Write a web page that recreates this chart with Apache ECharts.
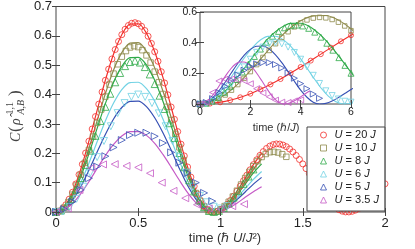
<!DOCTYPE html>
<html><head><meta charset="utf-8">
<script src="https://cdn.jsdelivr.net/npm/echarts@6/dist/echarts.min.js"></script>
<style>html,body{margin:0;padding:0;background:#fff}#c{width:415px;height:249px}</style>
</head><body><div id="c"></div>
<script>
// Interaction strengths (units of J) and legend labels
const U = [20, 10, 8, 6, 5, 3.5];
const names = ['U = 20 J', 'U = 10 J', 'U = 8 J', 'U = 6 J', 'U = 5 J', 'U = 3.5 J'];
const colors = ['#f2302c', '#8f8b4c', '#2eaa48', '#72d2e4', '#3650b4', '#c55ac6'];
// sampling step of the measured points, in units of hbar/J
const markerDt = [0.4, 0.25, 0.24, 0.25, 0.25, 0.25];
// theory curve sampling step, in units of hbar U / J^2
const theoryStep = 0.05;

const m20 = [0, .0028, .0111, .0248, .0437, .0673, .0954, .1274, .1628, .2009, .2412, .2828, .3251, .3674, .4088, .4487, .4866, .5213, .5534, .5809, .6040, .6224, .6353, .6428, .6450, .6413, .6327, .6182, .5986, .5743, .5458, .5135, .4779, .4396, .3992, .3577, .3157, .2738, .2310, .1910, .1534, .1189, .0878, .0610, .0387, .0209, .0085, .0016,
  .0002, .0023, .0075, .0155, .0262, .0391, .0540, .0705, .0882, .1066, .1253, .1438, .1614, .1779, .1929, .2058, .2165, .2245, .2296, .2319,
  .2313, .2281, .2225, .2146, .2046, .1925, .1789, .1639, .1477, .1310, .1138, .0968, .0802, .0644, .0495, .0363, .0247, .0152, .0078, .0028, .0003,
  .0003, .0023, .0063, .0122, .0198, .0288, .0390, .0500, .0615, .0733, .0850, .0960];
const m10 = [0, .0038, .0152, .0337, .0590, .0903, .1268, .1675, .2113, .2569, .3035, .3492, .3931, .4341, .4713, .5032, .5291, .5483, .5604, .5650, .5617, .5512, .5335, .5090, .4781, .4422, .4019, .3583, .3133, .2658, .2203, .1759, .1344, .0970, .0647, .0383, .0183, .0055, .0001,
  .0023, .0091, .0201, .0348, .0525, .0725, .0937, .1155, .1366, .1561, .1734, .1874, .1976, .2036, .2050, .2025, .1969, .1880];
const m8 = [0, .0050, .0198, .0438, .0762, .1156, .1604, .2091, .2596, .3101, .3583, .4029, .4419, .4736, .4969, .5108, .5150, .5091, .4936, .4686, .4358, .3962, .3510, .3024, .2520, .2008, .1525, .1082, .0701, .0391, .0167, .0035, .0002,
  .004, .014, .029, .049, .071, .096, .121, .145];
const m6 = [0, .002, .017, .045, .086, .133, .187, .242, .292, .337, .371, .392, .400, .392, .371, .336, .292, .242, .187, .134, .086, .055, .033, .018, .012, .02];
const m5 = [0, .01, .035, .075, .115, .155, .19, .22, .245, .262, .27, .27, .258, .235, .203, .168, .133, .1, .065, .037];
const m35 = [0, .012, .075, .15, .162, .163, .157, .152, .132, .1, .072, .047, .025, .012, .01, .02, .027];

// theory curves
const t20 = [0, .0173, .0673, .1447, .2412, .3464, .4487, .5380, .6040, .6397, .6413, .6090, .5458, .4588, .3577, .2515, .1534, .0739, .0209, .0002, .0075, .0325, .0705, .116, .1614, .200];
const t10 = [0, .016, .061, .130, .217, .311, .403, .484, .543, .575, .577, .547, .491, .412, .322, .226, .138, .066, .019, 0, .007, .029, .063, .104, .145, .180];
const t8  = [0, .014, .055, .119, .198, .285, .369, .442, .496, .526, .527, .501, .449, .377, .294, .207, .126, .061, .017, 0, .006, .027, .058, .095, .133, .164];
const t6  = [0, .012, .046, .100, .166, .239, .310, .371, .417, .441, .442, .420, .377, .317, .247, .174, .106, .051, .014, 0, .005, .022, .049, .080, .111, .138];
const t5  = [0, .010, .040, .085, .142, .204, .264, .317, .356, .377, .378, .359, .321, .270, .211, .148, .090, .044, .012, 0, .004, .019, .042, .068, .095, .118];
const t35 = [0, .007, .029, .062, .103, .148, .192, .230, .259, .274, .274, .261, .234, .196, .153, .108, .066, .032, .009, 0, .003, .014, .030, .050, .069, .086];

const markers = [m20, m10, m8, m6, m5, m35];
const theory = [t20, t10, t8, t6, t5, t35];
const symbols = ['circle', 'rect', 'triangle', 'triangle', 'triangle', 'triangle'];
const rotations = [0, 0, 0, 180, -90, 90];
const mainSizes = [6, 5.5, 7, 7, 7, 7];
const insetSizes = [5, 4.5, 6, 6, 6, 6];

const FONT = '"Liberation Sans", Arial, sans-serif';
const SERIF = '"Liberation Serif", "DejaVu Serif", serif';
const frame = '#444';

const series = [];
for (let i = 0; i < U.length; i++) {
  series.push({
    type: 'line', name: 'th' + i, xAxisIndex: 0, yAxisIndex: 0, silent: true,
    data: theory[i].map((v, k) => [k * theoryStep, v]),
    showSymbol: false, smooth: 0.3, lineStyle: { color: colors[i], width: 1.2 }, z: 2
  });
  series.push({
    type: 'line', name: 'thi' + i, xAxisIndex: 2, yAxisIndex: 2, silent: true,
    data: theory[i].map((v, k) => [k * theoryStep * U[i], v]),
    showSymbol: false, smooth: 0.3, lineStyle: { color: colors[i], width: 1.1 }, z: 11
  });
}
for (let i = 0; i < U.length; i++) {
  series.push({
    type: 'scatter', name: names[i], xAxisIndex: 0, yAxisIndex: 0, silent: true,
    data: markers[i].map((v, k) => [k * markerDt[i] / U[i], v]),
    symbol: symbols[i], symbolSize: mainSizes[i], symbolRotate: rotations[i],
    itemStyle: { color: 'rgba(0,0,0,0)', borderColor: colors[i], borderWidth: 1 }, z: 3
  });
  series.push({
    type: 'scatter', name: 'in' + i, xAxisIndex: 2, yAxisIndex: 2, silent: true,
    data: markers[i].map((v, k) => [k * markerDt[i], v]),
    symbol: symbols[i], symbolSize: insetSizes[i], symbolRotate: rotations[i],
    itemStyle: { color: 'rgba(0,0,0,0)', borderColor: colors[i], borderWidth: 1 }, z: 12
  });
}

function axisX(grid, pos, min, max, iv, labels, fs, z) {
  return { type: 'value', gridIndex: grid, position: pos, min, max, interval: iv, z,
    axisLine: { show: false }, splitLine: { show: false },
    axisTick: { show: true, inside: true, length: 4, lineStyle: { color: frame } },
    axisLabel: { show: labels, fontSize: fs, color: '#222', fontFamily: FONT, margin: grid === 0 ? 5 : 3 } };
}
function axisY(grid, pos, min, max, iv, labels, fs, z) {
  return { type: 'value', gridIndex: grid, position: pos, min, max, interval: iv, z,
    axisLine: { show: false }, splitLine: { show: false },
    axisTick: { show: true, inside: true, length: 4, lineStyle: { color: frame } },
    axisLabel: { show: labels, fontSize: fs, color: '#222', fontFamily: FONT, margin: grid === 0 ? 4 : 3 } };
}

const chart = echarts.init(document.getElementById('c'), null, { renderer: 'canvas' });
chart.setOption({
  animation: false,
  backgroundColor: '#fff',
  grid: [
    { left: 56, right: 30, top: 6, bottom: 37, show: true, borderColor: frame, borderWidth: 1, backgroundColor: 'transparent', z: 1 },
    { left: 200, right: 64, top: 12, bottom: 145, show: true, borderColor: frame, borderWidth: 1, backgroundColor: '#fff', z: 8 }
  ],
  xAxis: [
    axisX(0, 'bottom', 0, 2, 0.5, true, 13, 4),
    axisX(0, 'top', 0, 2, 0.5, false, 13, 4),
    axisX(1, 'bottom', 0, 6, 2, true, 10.5, 13),
    axisX(1, 'top', 0, 6, 2, false, 10.5, 13)
  ],
  yAxis: [
    axisY(0, 'left', 0, 0.7, 0.1, true, 13, 4),
    axisY(0, 'right', 0, 0.7, 0.1, false, 13, 4),
    axisY(1, 'left', 0, 0.6, 0.2, true, 10.5, 13),
    axisY(1, 'right', 0, 0.6, 0.2, false, 10.5, 13)
  ],
  legend: {
    data: names.map((n, i) => ({ name: n, icon: symbols[i], symbolRotate: rotations[i] })),
    orient: 'vertical', left: 307, top: 127, selectedMode: false,
    backgroundColor: '#fff', borderColor: frame, borderWidth: 1, borderRadius: 0,
    padding: [1.5, 6, 4.5, 13], itemWidth: 6, itemHeight: 6, itemGap: 0, z: 20,
    itemStyle: { borderWidth: 1 },
    formatter: n => ' ' + n.replace('U', '{i|U}').replace(/J$/, '{i|J}'),
    textStyle: { fontSize: 11, lineHeight: 13, color: '#222', fontFamily: FONT,
      rich: { i: { fontStyle: 'italic', fontSize: 11, lineHeight: 13, color: '#222', fontFamily: FONT } } }
  },
  graphic: [
    { type: 'text', x: 225, y: 238, z: 30, style: { text: 'time (ℏ {i|U}/{i|J}²)', fontSize: 13, fontFamily: FONT, fill: '#333', align: 'center', verticalAlign: 'middle',
      rich: { i: { fontStyle: 'italic', fontSize: 13, fontFamily: FONT, fill: '#333' } } } },
    { type: 'text', x: 276, y: 128, z: 30, style: { text: 'time (ℏ/{i|J})', fontSize: 11, fontFamily: FONT, fill: '#333', align: 'center', verticalAlign: 'middle',
      rich: { i: { fontStyle: 'italic', fontSize: 11, fontFamily: FONT, fill: '#333' } } } },
    { type: 'group', x: 16, y: 143, rotation: Math.PI / 2, z: 30, children: [
      { type: 'text', x: 1, y: 0, style: { text: 'C', font: 'italic 14px ' + SERIF, fill: '#444', verticalAlign: 'middle' } },
      { type: 'text', x: 11, y: 0, style: { text: '(', font: '17px ' + SERIF, fill: '#444', verticalAlign: 'middle' } },
      { type: 'text', x: 18, y: 0.5, style: { text: 'ρ̂', font: 'italic 14px ' + SERIF, fill: '#444', verticalAlign: 'middle' } },
      { type: 'text', x: 28.5, y: -6, style: { text: '1,1', font: '10px ' + SERIF, fill: '#444', verticalAlign: 'middle' } },
      { type: 'text', x: 28.5, y: 5, style: { text: 'A,B', font: 'italic 10px ' + SERIF, fill: '#444', verticalAlign: 'middle' } },
      { type: 'text', x: 47, y: 0, style: { text: ')', font: '17px ' + SERIF, fill: '#444', verticalAlign: 'middle' } }
    ] }
  ],
  series
});
</script></body></html>
